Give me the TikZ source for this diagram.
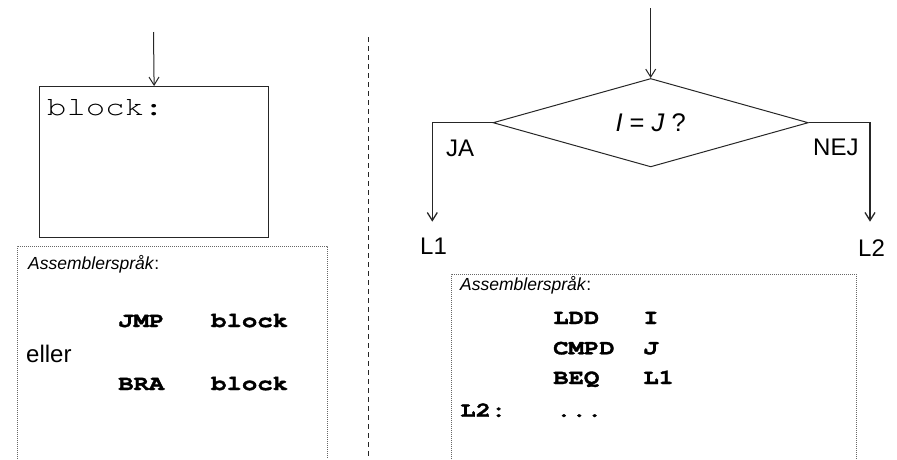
\documentclass[tikz,border=0pt]{standalone}
\usepackage{fontspec}
\setmainfont{Liberation Sans}
\newfontfamily\cursor{texgyrecursor}[Extension=.otf,UprightFont=*-regular,BoldFont=*-bold,FakeStretch=1.22,BoldFeatures={FakeBold=1.6}]
\usetikzlibrary{arrows.meta,shapes.geometric}
\begin{document}
\begin{tikzpicture}[x=1pt,y=-1pt,
  line/.style={line width=1pt, draw=black!85},
  arr/.style={line, -{Straight Barb[length=8pt,width=10pt]}},
  txt/.style={inner sep=0pt, anchor=base west},
  sans/.style={txt, font=\fontsize{24}{28}\selectfont},
  note/.style={txt, font=\fontsize{17.5}{20}\selectfont},
  code/.style={txt, font=\cursor\bfseries\fontsize{21}{24}\selectfont},
  notebox/.style={draw=black!60, line width=0.8pt, dash pattern=on 1pt off 1pt}]
\useasboundingbox (0,0) rectangle (897,459);
% ---------- left part ----------
\coordinate (ls) at (153.5,32);
\node[draw=black!85, line width=1.2pt, minimum width=229pt, minimum height=151pt,
      anchor=north west, inner sep=0pt] (blk) at (39,86) {};
\draw[arr] (ls) -- (blk.north);
\node[txt, font=\cursor\fontsize{26.5}{30}\selectfont] (blabel) at (47,115) {block:};
\draw[notebox] (17,459) -- (17,246) -- (327,246) -- (327,459);
\node[note] (asmL) at (28,269) {\textit{Assemblerspråk}:};
\node[code] (jmp) at (118,327) {JMP};
\node[code] (jmpop) at (211,327) {block};
\node[sans] (eller) at (26,362) {eller};
\node[code] (bra) at (118,390) {BRA};
\node[code] (braop) at (211,390) {block};
% ---------- separator ----------
\draw[line, dash pattern=on 5pt off 4pt] (368,37) -- (368,459);
% ---------- right part ----------
\coordinate (rs) at (650.7,8);
\node[diamond, line, draw, minimum width=315.3pt, minimum height=80pt, inner sep=0pt,
      font=\fontsize{25.5}{28}\selectfont] (dec) at (650.7,122.7)
      {\textit{I} = \textit{J} ?};
\draw[arr] (rs) -- (dec.north);
\coordinate (jaTurn) at (432.3,122.7);
\coordinate (jaEnd) at (432.3,221.7);
\coordinate (nejTurn) at (870,122.7);
\coordinate (nejEnd) at (870,221.7);
\draw[arr, line width=1.3pt] (dec.west) -- (jaTurn) -- (jaEnd);
\draw[arr, line width=1.3pt] (dec.east) -- (nejTurn) -- (nejEnd);
\node[sans] (ja) at (446,156.7) {JA};
\node[sans] (nej) at (813,155) {NEJ};
\node[sans] (l1) at (420,254) {L1};
\node[sans] (l2) at (858,256.7) {L2};
\draw[notebox] (451,459) -- (451,274) -- (856,274) -- (856,459);
\node[note] (asmR) at (460,290.7) {\textit{Assemblerspråk}:};
\node[code] (ldd) at (553,324) {LDD};
\node[code] (lddop) at (643,324) {I};
\node[code] (cmpd) at (553,354.3) {CMPD};
\node[code] (cmpdop) at (643,354.3) {J};
\node[code] (beq) at (553,384) {BEQ};
\node[code] (beqop) at (643,384) {L1};
\node[code] (lab) at (460,416.7) {L2:};
\node[code] (dots) at (556,416.7) {...};
\end{tikzpicture}
\end{document}
